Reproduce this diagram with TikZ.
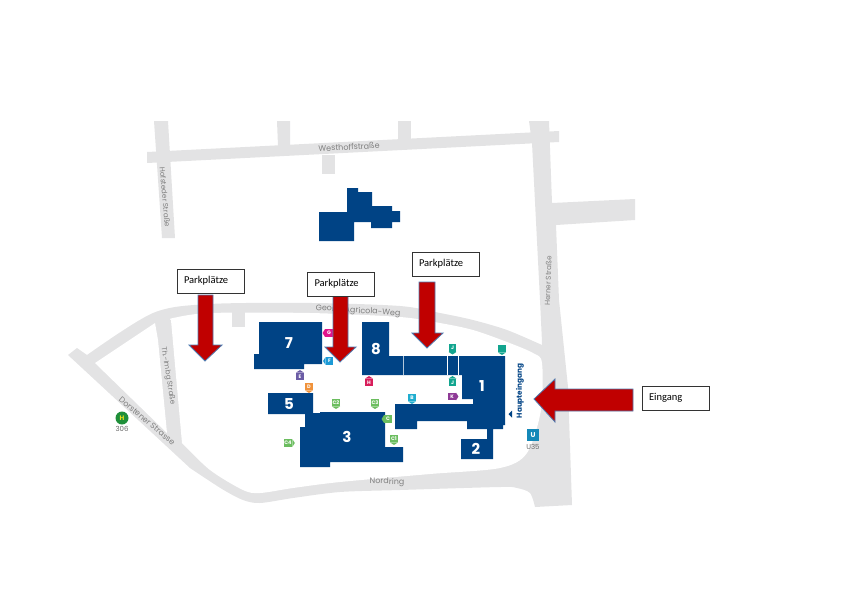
\documentclass[tikz,border=0pt]{standalone}
\usepackage{fontspec}
\setmainfont{Carlito}
\newfontfamily\mapfont{Poppins}
\definecolor{road}{HTML}{E3E3E4}
\definecolor{house}{HTML}{004385}
\definecolor{pfeil}{HTML}{C00000}
\definecolor{pfeilrand}{HTML}{4F7BB0}
\definecolor{tgreen}{HTML}{6BBD5F}
\definecolor{tteal}{HTML}{13A58F}
\definecolor{tmag}{HTML}{E0148C}
\definecolor{tblue}{HTML}{1C9AD6}
\definecolor{tpurp}{HTML}{6B5CA5}
\definecolor{torange}{HTML}{F0923B}
\definecolor{tred}{HTML}{D81E5B}
\definecolor{tviolet}{HTML}{8E3A96}
\definecolor{tcyan}{HTML}{20ADCF}
\definecolor{tsquare}{HTML}{1488B8}
\definecolor{tbus}{HTML}{1F8F3A}
\tikzset{
  roadfill/.style={fill=road,draw=none},
  housefill/.style={fill=house,draw=none},
  bignum/.style={text=white,font=\mapfont\bfseries\fontsize{15}{15}\selectfont,inner sep=0pt},
  roadname/.style={text=black!50,font=\mapfont\fontsize{8}{9}\selectfont,inner sep=0pt},
  sidename/.style={text=black!50,font=\mapfont\fontsize{7.2}{9}\selectfont,inner sep=0pt},
  smallname/.style={text=black!60,font=\mapfont\fontsize{7}{8}\selectfont,inner sep=0pt},
  redarrow/.style={fill=pfeil,draw=pfeilrand,line width=.8pt,line join=miter},
  textbox/.style={draw=black!80,fill=white,line width=.7pt,minimum width=67pt,minimum height=24pt,
    text width=53pt,inner sep=0pt,align=left,font=\fontsize{10.5}{12}\selectfont},
  pinbox/.style={text=white,font=\mapfont\bfseries\fontsize{5}{6}\selectfont,inner sep=.5pt,
    minimum width=7.5pt,minimum height=7.5pt},
}
\newcommand{\pin}[8]{\node[pinbox,fill=#3] (#1) at (#2) {#4};
  \fill[#3] (#1.#6) -- ([#8]#1.#5) -- (#1.#7) -- cycle;}
\newcommand{\pindown}[4]{\pin{#1}{#2}{#3}{#4}{south}{south west}{south east}{yshift=-2.5pt}}
\newcommand{\pinup}[4]{\pin{#1}{#2}{#3}{#4}{north}{north west}{north east}{yshift=2.5pt}}
\newcommand{\pinleft}[4]{\pin{#1}{#2}{#3}{#4}{west}{north west}{south west}{xshift=-2.5pt}}
\newcommand{\pinright}[4]{\pin{#1}{#2}{#3}{#4}{east}{north east}{south east}{xshift=2.5pt}}
\begin{document}
\begin{tikzpicture}[x=1pt,y=-1pt]
\useasboundingbox (0,0) rectangle (842,595);
% streets
\fill[roadfill] (147,152) -- (559,131) -- (559,142) -- (147,163) -- cycle;
\fill[roadfill] (154,121) -- (168,121) -- (175,238) -- (162,238) -- cycle;
\fill[roadfill] (277,121) -- (290,121) -- (290,146) -- (278,146) -- cycle;
\fill[roadfill] (398,121) -- (411,121) -- (411,140) -- (398,140) -- cycle;
\fill[roadfill] (322,155) -- (335,155) -- (335,174) -- (322,174) -- cycle;
\fill[roadfill] (529,121) -- (549,121) -- (552,203) -- (635,199) -- (635,220) -- (556,225)
  -- (559,300) -- (568,387) -- (572,505) -- (535,507) -- (542,342) -- (540,300) -- (532,143) -- cycle;
% ring
\fill[roadfill] (68,355) -- (77,348) -- (87,355)
  -- plot[smooth,tension=.5] coordinates {(87,355) (153,313) (210,304) (313,303) (400,306) (440,313) (473,320) (507,330) (542,345)}
  -- (560,400) -- (535,507)
  -- plot[smooth,tension=.5] coordinates {(535,507) (530,493) (517,488) (500,487) (400,490) (340,492) (293,498) (260,503) (243,500) (222,489) (190,468)}
  -- cycle;
\fill[white] plot[smooth,tension=.5] coordinates {(171,320) (173,318) (210,313) (310,313) (400,317) (440,323) (473,330) (507,342) (533,353) (542,363) (541,410) (527,453) (500,468) (430,474) (340,482) (293,488) (260,493) (243,490) (210,470) (182,443)}
  -- cycle;
\fill[white] (155,323) -- (158,340) -- (167,433) -- (95,363) -- cycle;
\fill[roadfill] (232,308) -- (245,308) -- (245,327) -- (232,327) -- cycle;
% houses
\fill[housefill] (347,188) -- (358,188) -- (358,192) -- (372,192) -- (372,206) -- (392,206) -- (392,211)
  -- (400,211) -- (400,222) -- (392,222) -- (392,228) -- (371,228) -- (371,222) -- (354,222) -- (354,241)
  -- (319,241) -- (319,212) -- (347,212) -- cycle;
\fill[housefill] (259,322) -- (322,322) -- (322,364) -- (304,364) -- (304,369) -- (254,369) -- (254,354)
  -- (259,354) -- cycle;
\fill[housefill] (268,393) -- (313,393) -- (313,413) -- (320,413) -- (320,412) -- (385,412) -- (385,447)
  -- (403,447) -- (403,462) -- (330,462) -- (330,467) -- (300,467) -- (300,427) -- (305,427) -- (305,414)
  -- (268,414) -- cycle;
\fill[housefill] (362,322) -- (389,322) -- (389,356) -- (505,356) -- (505,425) -- (503,425) -- (503,429)
  -- (493,429) -- (493,459) -- (461,459) -- (461,439) -- (487,439) -- (487,429) -- (467,429) -- (467,421)
  -- (417,421) -- (417,429) -- (395,429) -- (395,404) -- (473,404) -- (473,399) -- (462,399) -- (462,375)
  -- (362,375) -- cycle;
\draw[white!70!house,line width=.6pt] (403,356) -- (403,375);
\draw[white,line width=.6pt] (447,356) -- (447,375);
\draw[white,line width=.6pt] (458,356) -- (458,375);
% numbers
\node[bignum] (n7) at (289,343) {7};
\node[bignum] (n8) at (376,349) {8};
\node[bignum] (n1) at (482,386) {1};
\node[bignum] (n5) at (289,404) {5};
\node[bignum] (n3) at (347,437) {3};
\node[bignum] (n2) at (476,449) {2};
% street names
\node[roadname,rotate=3] (west) at (349,147) {Westhoffstraße};
\node[sidename,rotate=-85] (hof) at (165,197) {Hofsteder Straße};
\node[sidename,rotate=88] (herner) at (548,281) {Herner Straße};
\node[roadname,rotate=-4] (georg) at (358,311) {Georg-Agricola-Weg};
\node[sidename,rotate=-81] (imbg) at (168,376) {Th.-Imbg Straße};
\node[roadname,rotate=-40] (dorsten) at (147,421) {Dorstener Strasse};
\node[roadname,rotate=-1] (nord) at (387,482) {Nordring};
% tags
\pinleft{tagG}{329,333}{tmag}{G}
\pinleft{tagF}{329.5,361}{tblue}{F}
\pinup{tagE}{300,376.5}{tpurp}{E}
\pindown{tagD}{309,386.5}{torange}{D}
\pindown{tagCb}{336,402.5}{tgreen}{C2}
\pindown{tagCc}{375,402.5}{tgreen}{C3}
\pinleft{tagC}{388,419}{tgreen}{C}
\pindown{tagCa}{394,438.5}{tgreen}{C1}
\pinright{tagCd}{288,443}{tgreen}{C4}
\pinup{tagH}{369,382.5}{tred}{H}
\pindown{tagB}{412,397.5}{tcyan}{B}
\pindown{tagJa}{452.5,348}{tteal}{J}
\pinup{tagJb}{452.5,382.5}{tteal}{J}
\pinright{tagK}{452,396.5}{tviolet}{K}
\pindown{tagT}{502,348.5}{tteal}{}
\node[fill=tsquare,text=white,font=\mapfont\bfseries\fontsize{7}{8}\selectfont,minimum size=12pt,inner sep=0pt] (ubahn) at (533,435) {U};
\node[smallname] (utext) at (533,447) {U35};
\node[circle,fill=tbus,text=yellow!90!black,font=\mapfont\bfseries\fontsize{6.5}{7}\selectfont,minimum size=13pt,inner sep=0pt] (bus) at (122,418) {H};
\node[smallname] (bustext) at (122,429) {306};
\node[text=house,font=\mapfont\bfseries\fontsize{7.3}{8}\selectfont,rotate=90,inner sep=0pt] (haupt) at (520,391) {Haupteingang};
\fill[house] (508.5,414) -- (512,410.5) -- (512,417.5) -- cycle;
% arrows
\draw[redarrow] (198,295) -- (213,295) -- (213,345) -- (222,345) -- (205,361) -- (189,345) -- (198,345) -- cycle;
\draw[redarrow] (333,295) -- (348,295) -- (348,347) -- (356,347) -- (340,362) -- (325,347) -- (333,347) -- cycle;
\draw[redarrow] (419,282) -- (435,282) -- (435,333) -- (443,333) -- (427,348) -- (412,333) -- (419,333) -- cycle;
\draw[redarrow] (633,389) -- (633,411) -- (555,411) -- (555,422) -- (534,399) -- (555,379) -- (555,389) -- cycle;
% boxes
\node[textbox] (park1) at (210.5,281) {Parkplätze};
\node[textbox] (park2) at (341,284) {Parkplätze};
\node[textbox] (park3) at (445.5,264) {Parkplätze};
\node[textbox] (eingang) at (675.5,398) {Eingang};
\end{tikzpicture}
\end{document}
